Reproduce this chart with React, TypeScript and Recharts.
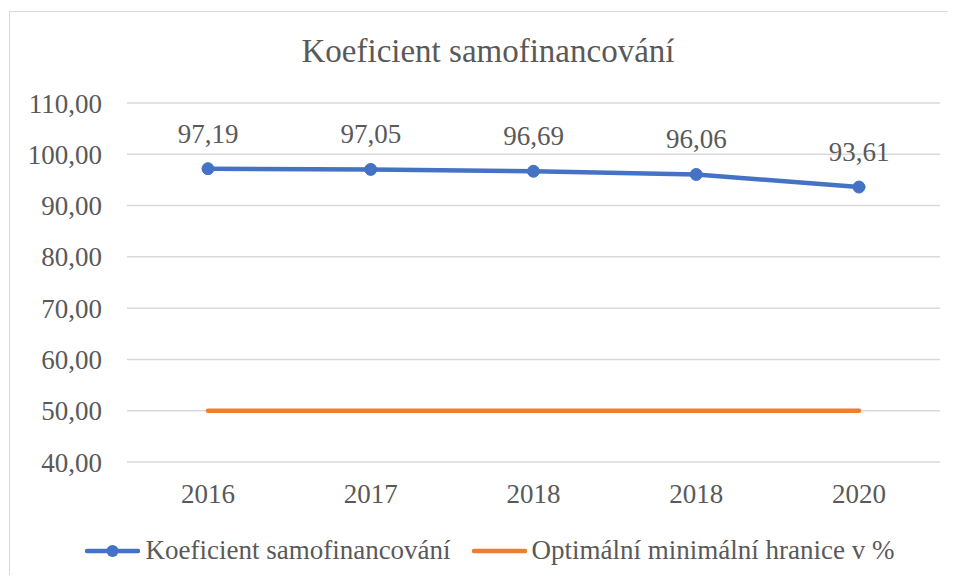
import { LineChart, Line, XAxis, YAxis, CartesianGrid, LabelList } from "recharts";

// ── Data ───────────────────────────────────────────────────

const YEARS = ["2016", "2017", "2018", "2018", "2020"];
const KOEFICIENT = [97.19, 97.05, 96.69, 96.06, 93.61];
const HRANICE = [50, 50, 50, 50, 50];
const Y_TICKS = [40, 50, 60, 70, 80, 90, 100, 110];

const TITLE = "Koeficient samofinancování";
const NAME_KOEF = "Koeficient samofinancování";
const NAME_HRANICE = "Optimální minimální hranice v %";

// ── Styles ─────────────────────────────────────────────────

const BLUE = "#4472C4";
const ORANGE = "#ED7D31";
const TEXT = "#595959";
const GRID = "#d9d9d9";
const FONT = "Liberation Serif, Tinos, DejaVu Serif, Noto Serif, serif";

const data = YEARS.map((year, i) => ({
  idx: i,
  year,
  koef: KOEFICIENT[i],
  hranice: HRANICE[i],
}));

const fmt = (v: number) => v.toFixed(2).replace(".", ",");

function LegendIcon({ color, dot }: { color: string; dot?: boolean }) {
  return (
    <svg width={55} height={14} style={{ display: "block" }}>
      <line x1={2} y1={7} x2={53} y2={7} stroke={color} strokeWidth={4.5} strokeLinecap="round" />
      {dot && <circle cx={27.5} cy={7} r={6} fill={color} />}
    </svg>
  );
}

export default function App() {
  return (
    <div style={{ position: "relative", width: 948, height: 567, overflow: "hidden", fontFamily: FONT, background: "#fff" }}>
      {/* frame: only the top and left edges fall inside the picture */}
      <div
        style={{
          position: "absolute",
          left: 1,
          top: 3,
          right: 0,
          bottom: 0,
          borderTop: `1px solid ${GRID}`,
          borderLeft: `1px solid ${GRID}`,
        }}
      />

      {/* title */}
      <div style={{ position: "absolute", left: 0, top: 27, width: 960, textAlign: "center", fontSize: 33, lineHeight: "33px", color: TEXT }}>
        {TITLE}
      </div>

      <div style={{ position: "absolute", left: 0, top: 0 }}>
        <LineChart width={948} height={567} data={data} margin={{ top: 95, right: 16, bottom: 53, left: 9 }}>
          <CartesianGrid vertical={false} stroke={GRID} strokeWidth={1.5} />
          <XAxis
            dataKey="idx"
            tickFormatter={(i: number) => YEARS[i]}
            axisLine={false}
            tickLine={false}
            tickSize={0}
            tickMargin={22}
            height={60}
            padding={{ left: 81, right: 81 }}
            tick={{ fill: TEXT, fontSize: 27, fontFamily: FONT }}
          />
          <YAxis
            domain={[40, 110]}
            ticks={Y_TICKS}
            tickFormatter={fmt}
            axisLine={false}
            tickLine={false}
            tickSize={0}
            tickMargin={25}
            width={110}
            tick={{ fill: TEXT, fontSize: 27, fontFamily: FONT }}
          />
          <Line
            dataKey="hranice"
            name={NAME_HRANICE}
            stroke={ORANGE}
            strokeWidth={4.5}
            strokeLinecap="round"
            dot={false}
            isAnimationActive={false}
          />
          <Line
            dataKey="koef"
            name={NAME_KOEF}
            stroke={BLUE}
            strokeWidth={4.5}
            strokeLinecap="round"
            dot={{ r: 6, fill: BLUE, stroke: BLUE, strokeWidth: 1 }}
            isAnimationActive={false}
          >
            <LabelList
              dataKey="koef"
              position="top"
              offset={26}
              formatter={(v: number) => fmt(v)}
              style={{ fill: TEXT, fontSize: 27, fontFamily: FONT }}
            />
          </Line>
        </LineChart>
      </div>

      {/* legend */}
      <div
        style={{
          position: "absolute",
          left: 0,
          top: 529,
          width: 964,
          display: "flex",
          justifyContent: "center",
          alignItems: "center",
          fontSize: 27,
          lineHeight: "27px",
          color: TEXT,
        }}
      >
        <LegendIcon color={BLUE} dot />
        <span style={{ marginLeft: 5 }}>{NAME_KOEF}</span>
        <span style={{ marginLeft: 21 }}>
          <LegendIcon color={ORANGE} />
        </span>
        <span style={{ marginLeft: 5 }}>{NAME_HRANICE}</span>
      </div>
    </div>
  );
}
